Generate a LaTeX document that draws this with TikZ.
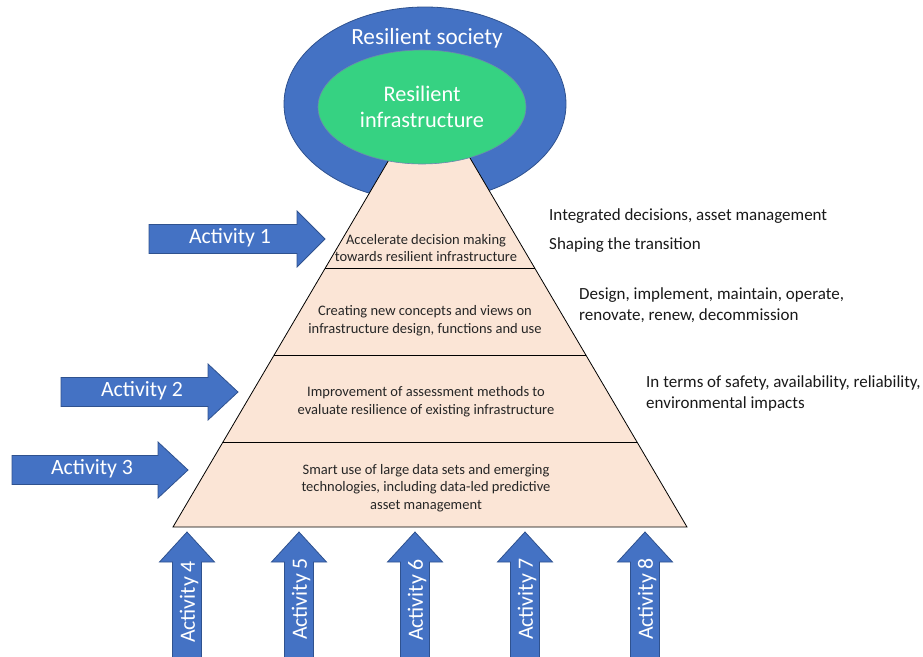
\documentclass[tikz,border=0pt]{standalone}
\usepackage{fontspec}
\setmainfont{Carlito}
\usetikzlibrary{shapes.geometric}
\definecolor{socblue}{HTML}{4472C4}
\definecolor{actedge}{HTML}{2F528F}
\definecolor{infgreen}{HTML}{36D282}
\definecolor{peach}{HTML}{FBE5D6}
\newcommand\actharrow[4]{% left x, head base x, tip x, center y
  \fill[socblue,draw=actedge,line width=0.8pt]
    (#1,#4-14.5) -- (#2,#4-14.5) -- (#2,#4-28) -- (#3,#4) -- (#2,#4+28)
    -- (#2,#4+14.5) -- (#1,#4+14.5) -- cycle;
}
\newcommand\actvarrow[1]{% center x
  \fill[socblue,draw=actedge,line width=0.8pt]
    (#1-14.5,660) -- (#1-14.5,562) -- (#1-27.5,562) -- (#1,532) -- (#1+27.5,562)
    -- (#1+14.5,562) -- (#1+14.5,660) -- cycle;
}
\begin{document}
\begin{tikzpicture}[x=1pt,y=-1pt,
  tiertext/.style={align=center, font=\fontsize{14.5}{17.6}\selectfont, text=black!85, inner sep=0},
  sidetext/.style={anchor=west, align=left, font=\fontsize{17}{21}\selectfont, text=black!90, inner sep=0},
  acttext/.style={text=white, font=\fontsize{21.8}{22}\selectfont, inner sep=0},
  ringtext/.style={text=white, align=center, inner sep=0},
]
\useasboundingbox (0,0) rectangle (923,656);
% outer ring
\node[ellipse, fill=socblue, draw=actedge, line width=0.8pt, minimum width=282pt, minimum height=194pt, inner sep=0] (society) at (425,104) {};
% pyramid
\coordinate (apex) at (430,90);
\coordinate (bl) at (173,527);
\coordinate (br) at (687,527);
\coordinate (l1) at (325.3,268); \coordinate (r1) at (534.7,268);
\coordinate (l2) at (274.2,355); \coordinate (r2) at (585.8,355);
\coordinate (l3) at (223.0,442); \coordinate (r3) at (637.0,442);
\filldraw[fill=peach, draw=black, line width=0.8pt] (apex) -- (br) -- (bl) -- cycle;
\draw[line width=0.8pt] (l1) -- (r1) (l2) -- (r2) (l3) -- (r3);
% inner ellipse
\node[ellipse, fill=infgreen, draw=actedge!70, line width=0.6pt, minimum width=208pt, minimum height=114pt, inner sep=0] (infra) at (422,107) {};
\node[ringtext, font=\fontsize{23.2}{24}\selectfont] (soctext) at (427,38) {Resilient society};
\node[ringtext, font=\fontsize{22.3}{26}\selectfont] (inftext) at (422,107) {Resilient\\infrastructure};
% tier texts
\node[tiertext] (t1) at (426,248) {Accelerate decision making\\towards resilient infrastructure};
\node[tiertext] (t2) at (425,321) {Creating new concepts and views on\\infrastructure design, functions and use};
\node[tiertext] (t3) at (426,402) {Improvement of assessment methods to\\evaluate resilience of existing infrastructure};
\node[tiertext] (t4) at (426,488) {Smart use of large data sets and emerging\\technologies, including data-led predictive\\asset management};
% side texts
\node[sidetext] (s1) at (549,216) {Integrated decisions, asset management};
\node[sidetext] (s2) at (549,245) {Shaping the transition};
\node[sidetext] (s3) at (579,305) {Design, implement, maintain, operate,\\renovate, renew, decommission};
\node[sidetext] (s4) at (646,393) {In terms of safety, availability, reliability,\\environmental impacts};
% horizontal arrows
\actharrow{149}{297}{325}{239}
\node[acttext] (a1) at (230,238) {Activity 1};
\actharrow{61}{208}{238}{392}
\node[acttext] (a2) at (142,391) {Activity 2};
\actharrow{12}{158}{188}{470}
\node[acttext] (a3) at (92,469) {Activity 3};
% vertical arrows
\actvarrow{187}
\node[acttext, rotate=90] (a4) at (189,602) {Activity 4};
\actvarrow{299}
\node[acttext, rotate=90] (a5) at (301,599) {Activity 5};
\actvarrow{415}
\node[acttext, rotate=90] (a6) at (417,600) {Activity 6};
\actvarrow{525}
\node[acttext, rotate=90] (a7) at (527,599) {Activity 7};
\actvarrow{645}
\node[acttext, rotate=90] (a8) at (647,599) {Activity 8};
\end{tikzpicture}
\end{document}
